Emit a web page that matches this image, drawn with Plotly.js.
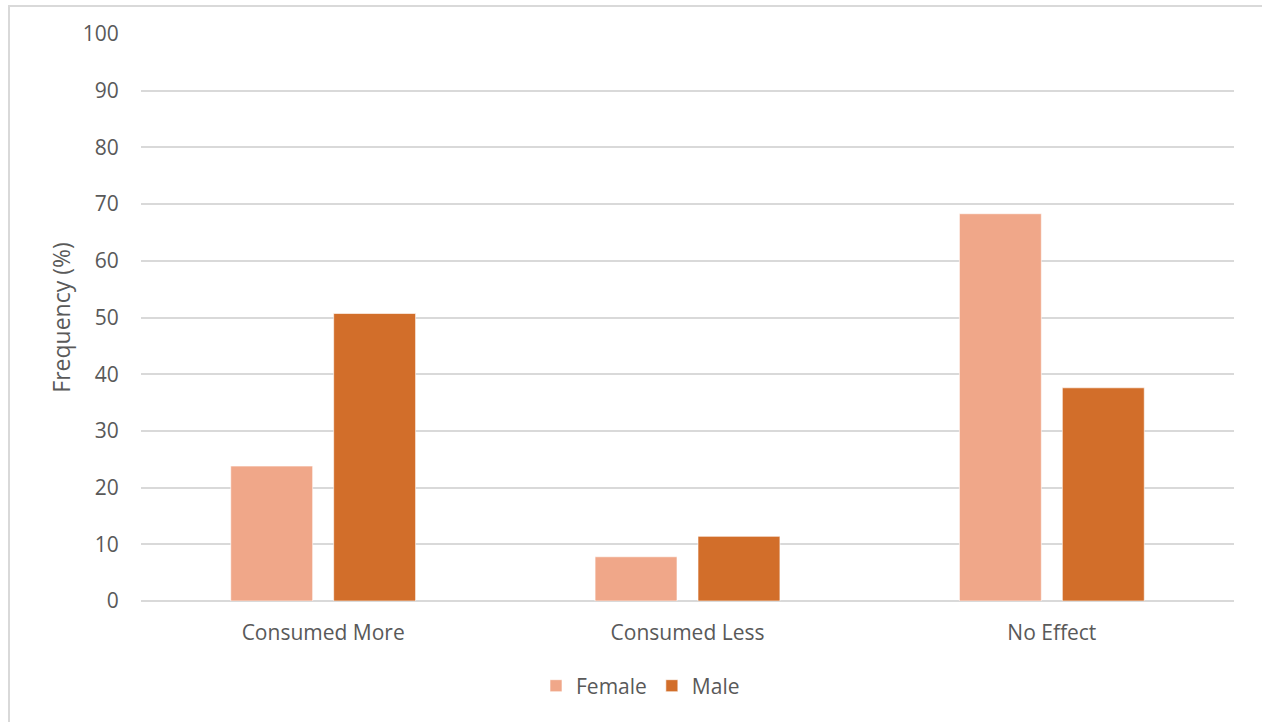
<!DOCTYPE html>
<html>
<head>
<meta charset="utf-8">
<script src="https://cdn.plot.ly/plotly-3.0.1.min.js"></script>
<style>
  html, body { margin: 0; padding: 0; background: #fff; }
  #frame { position: absolute; left: 8px; top: 5px; width: 1262px; height: 722px;
           border-left: 2px solid #d9d9d9; border-top: 2px solid #d9d9d9; }
  #chart { position: absolute; left: 0; top: 0; width: 1262px; height: 722px; }
</style>
</head>
<body>
<div id="frame"></div>
<div id="chart"></div>
<script>
const categories = ["Consumed More", "Consumed Less", "No Effect"];
const femaleValues = [23.8, 7.8, 68.3];
const maleValues = [50.7, 11.4, 37.6];
const yTicks = [0, 10, 20, 30, 40, 50, 60, 70, 80, 90, 100];

const font = "Open Sans, Liberation Sans, sans-serif";
const textColor = "#595959";

const traces = [
  { type: "bar", name: "Female", x: categories, y: femaleValues,
    marker: { color: "#F0A789", line: { color: "rgba(255,255,255,0.6)", width: 1 } },
    hoverinfo: "x+y+name" },
  { type: "bar", name: "Male", x: categories, y: maleValues,
    marker: { color: "#D26E2A", line: { color: "rgba(255,255,255,0.6)", width: 1 } },
    hoverinfo: "x+y+name" }
];

const layout = {
  width: 1262, height: 722,
  paper_bgcolor: "rgba(0,0,0,0)", plot_bgcolor: "rgba(0,0,0,0)",
  margin: { l: 141, r: 28, t: 34, b: 121 },
  barmode: "group", bargap: 0.435, bargroupgap: 0.204,
  font: { family: font, size: 21, color: textColor },
  showlegend: true,
  legend: { orientation: "h", x: 0.457, xanchor: "center", y: -0.15, yanchor: "middle",
            font: { family: font, size: 21, color: textColor }, traceorder: "normal",
            itemwidth: 30 },
  xaxis: { type: "category", showgrid: false, showline: false, zeroline: false,
           ticks: "outside", ticklen: 13, tickcolor: "rgba(0,0,0,0)",
           tickfont: { family: font, size: 21, color: textColor } },
  yaxis: { range: [0, 100], tickvals: yTicks, ticktext: yTicks.map(String),
           showgrid: true, gridcolor: "#d9d9d9", gridwidth: 1.5,
           zeroline: true, zerolinecolor: "#d9d9d9", zerolinewidth: 1.5,
           showline: false, ticks: "outside", ticklen: 17, tickcolor: "rgba(0,0,0,0)",
           tickfont: { family: font, size: 21, color: textColor },
           title: { text: "Frequency (%)", standoff: 5, font: { family: font, size: 23, color: textColor } } }
};

Plotly.newPlot("chart", traces, layout, { displayModeBar: false });
</script>
</body>
</html>
